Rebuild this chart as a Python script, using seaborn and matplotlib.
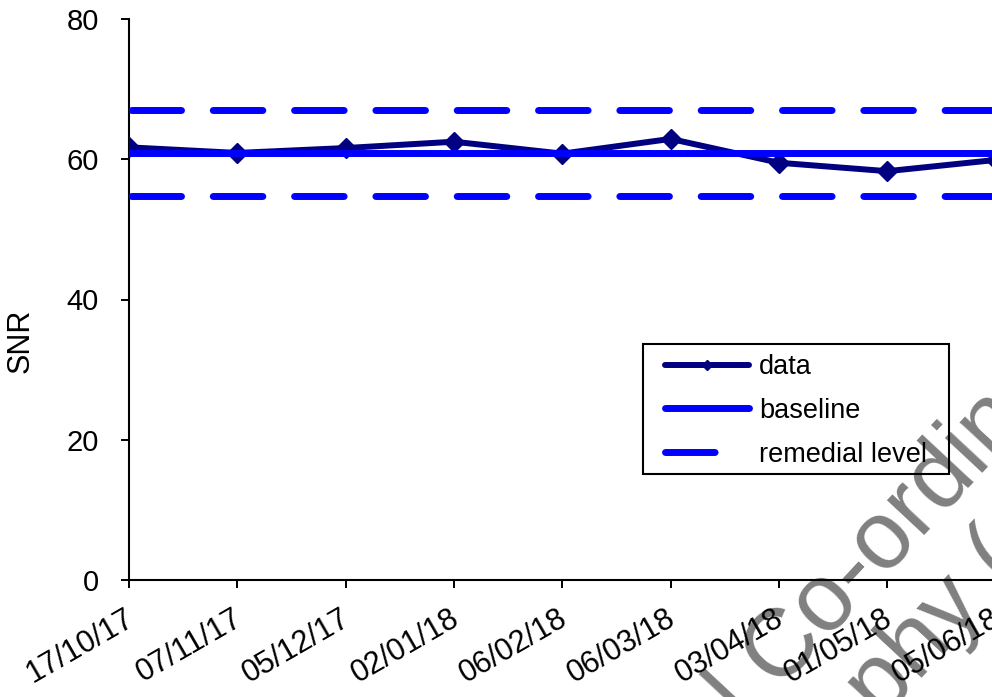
import matplotlib
matplotlib.use("Agg")
import matplotlib.pyplot as plt
import matplotlib.patches as mpatches
from matplotlib.lines import Line2D
from matplotlib.transforms import ScaledTranslation
import pandas as pd
import seaborn as sns

# Measurement dates and signal-to-noise values
dates = ["17/10/17", "07/11/17", "05/12/17", "02/01/18", "06/02/18",
         "06/03/18", "03/04/18", "01/05/18", "05/06/18"]
snr = [61.7, 60.9, 61.6, 62.5, 60.8, 62.9, 59.5, 58.3, 59.9]
baseline = 60.9
remedial_levels = [67.0, 54.8]
y_ticks = [0, 20, 40, 60, 80]

sns.set_theme(style="ticks")
plt.rcParams["font.family"] = ["Liberation Sans", "DejaVu Sans"]

W, H = 992, 697
fig = plt.figure(figsize=(W / 100, H / 100), dpi=100)
fig.patch.set_facecolor("white")

# Watermark text behind the chart
wm_kw = dict(color="#808080", fontsize=69, rotation=47, rotation_mode="anchor",
             ha="left", va="baseline", zorder=-5)
fig.text(746 / W, 1 - 726 / H, "l Co-ordin", **wm_kw)
fig.text(881 / W, 1 - 721 / H, "phy (", **wm_kw)

# Plot area continues past the right edge of the canvas
ax = fig.add_axes([129 / W, 117 / H, 975 / W, 561 / H])
ax.set_facecolor("none")

df = pd.DataFrame({"date": dates, "SNR": snr})
sns.lineplot(data=df, x="date", y="SNR", sort=False, ax=ax,
             color="#000080", lw=4.3, marker="D", markersize=10.5,
             markeredgecolor="#000080", markeredgewidth=1,
             solid_capstyle="round", label="data", zorder=3)

blue = "#0000FF"
ax.axhline(baseline, color=blue, lw=5.0, solid_capstyle="round",
           label="baseline", zorder=4)
dash = (11.36, (7.14, 4.57))
for lvl in remedial_levels:
    ax.axhline(lvl, color=blue, lw=5.0, ls=dash, dash_capstyle="round",
               zorder=4)

ax.set_xlim(0, len(dates))
ax.set_ylim(0, 80)
ax.set_yticks(y_ticks)
ax.set_xticks(range(len(dates)))
ax.set_xticklabels(dates, rotation=30, ha="right", rotation_mode="anchor")

for s in ("top", "right"):
    ax.spines[s].set_visible(False)
for s in ("left", "bottom"):
    ax.spines[s].set_color("black")
    ax.spines[s].set_linewidth(1.5)

ax.tick_params(axis="both", direction="out", length=5.8, width=1.4,
               colors="black", labelsize=21, bottom=True, left=True)
ax.tick_params(axis="y", pad=15.8)
ax.tick_params(axis="x", pad=11, labelsize=22)
shift = ScaledTranslation(-5 / 100, 0, fig.dpi_scale_trans)
for lab in ax.get_xticklabels():
    lab.set_transform(lab.get_transform() + shift)

ax.set_xlabel("")
ax.set_ylabel("SNR", fontsize=22, color="black")
ax.yaxis.set_label_coords(-108 / 975, (580 - 341) / 561)
ax.yaxis.label.set_verticalalignment("center")

handles, labels = ax.get_legend_handles_labels()
handles.append(Line2D([], [], color=blue, lw=5.0, ls=(0, (7.14, 20)),
                      dash_capstyle="round"))
labels.append("remedial level")
leg = ax.legend(handles, labels, loc="upper left",
                bbox_to_anchor=(665 / W, 1 - 354 / H),
                bbox_transform=fig.transFigure, frameon=False, fontsize=19.5,
                borderpad=0, borderaxespad=0, handlelength=3.1,
                handletextpad=0.36, labelspacing=0.66, markerscale=0.45)
for t in leg.get_texts():
    t.set_color("black")

# Box around the legend with wider side margins than top/bottom
fig.canvas.draw()
bb = leg.get_window_extent()
pad_x, pad_top, pad_bot = 22, 10, 6
rect = mpatches.Rectangle((bb.x0 - pad_x, bb.y0 - pad_bot),
                          bb.width + 2 * pad_x, bb.height + pad_top + pad_bot,
                          transform=None, facecolor="none",
                          edgecolor="black", lw=1.5, zorder=6)
fig.add_artist(rect)

fig.savefig("out.png", dpi=100, facecolor="white")
